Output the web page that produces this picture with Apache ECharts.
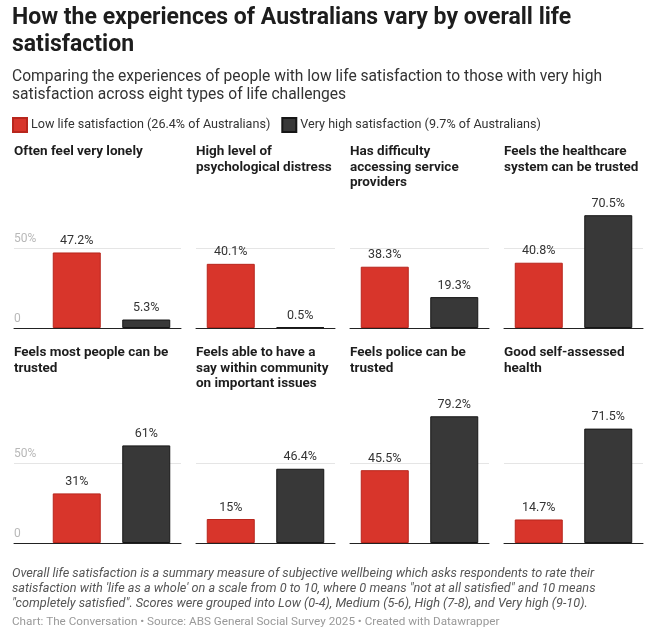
<!DOCTYPE html>
<html>
<head>
<meta charset="utf-8">
<script src="https://cdn.jsdelivr.net/npm/echarts@6/dist/echarts.min.js"></script>
<style>
  html, body { margin: 0; padding: 0; background: #fff; }
  #chart { width: 657px; height: 640px; }
</style>
</head>
<body>
<div id="chart"></div>
<script>
// values
var panelTitles = [
    'Often feel very lonely',
    'High level of\npsychological distress',
    'Has difficulty\naccessing service\nproviders',
    'Feels the healthcare\nsystem can be trusted',
    'Feels most people can be\ntrusted',
    'Feels able to have a\nsay within community\non important issues',
    'Feels police can be\ntrusted',
    'Good self-assessed\nhealth'
];
var lowValues = [47.2, 40.1, 38.3, 40.8, 31, 15, 45.5, 14.7];
var highValues = [5.3, 0.5, 19.3, 70.5, 61, 46.4, 79.2, 71.5];
var seriesNames = ['Low life satisfaction (26.4% of Australians)', 'Very high satisfaction (9.7% of Australians)'];
var tickLabels = ['0', '50%'];

var RED = '#d8352b';
var DARK = '#383838';

var colLeft = [42, 196, 350, 504];
var colWidth = 139;
var rowTop = [168, 383];
var rowHeight = 160;
var titleTop = [144, 345];

var chartDom = document.getElementById('chart');
var myChart = echarts.init(chartDom);

var grids = [];
var xAxes = [];
var yAxes = [];
var seriesList = [];
var titles = [
    {
        text: 'How the experiences of Australians vary by overall life\nsatisfaction',
        left: 12, top: 5, padding: 0,
        textStyle: { fontFamily: 'Roboto', fontSize: 23, fontWeight: 'bold', color: '#1d1d1d', lineHeight: 27 }
    },
    {
        text: 'Comparing the experiences of people with low life satisfaction to those with very high\nsatisfaction across eight types of life challenges',
        left: 12, top: 68, padding: 0,
        textStyle: { fontFamily: 'Roboto', fontSize: 15.6, fontWeight: 'normal', color: '#333', lineHeight: 18 }
    },
    {
        text: 'Overall life satisfaction is a summary measure of subjective wellbeing which asks respondents to rate their\n' +
              'satisfaction with \'life as a whole\' on a scale from 0 to 10, where 0 means "not at all satisfied" and 10 means\n' +
              '"completely satisfied". Scores were grouped into Low (0-4), Medium (5-6), High (7-8), and Very high (9-10).',
        left: 12, top: 566, padding: 0,
        textStyle: { fontFamily: 'Roboto', fontSize: 12.7, fontStyle: 'italic', fontWeight: 'normal', color: '#555', lineHeight: 15 }
    },
    {
        text: 'Chart: The Conversation \u2022 Source: ABS General Social Survey 2025 \u2022 Created with Datawrapper',
        left: 12, top: 615, padding: 0,
        textStyle: { fontFamily: 'Roboto', fontSize: 11.7, fontWeight: 'normal', color: '#999', lineHeight: 14 }
    }
];

function addGrid(left, top, width) {
    grids.push({ left: left, top: top, width: width, height: rowHeight });
    return grids.length - 1;
}

for (var i = 0; i < panelTitles.length; i++) {
    var row = Math.floor(i / 4);
    var col = i % 4;

    titles.push({
        text: panelTitles[i],
        left: col == 0 ? 14 : colLeft[col],
        top: titleTop[row], padding: 0,
        textStyle: { fontFamily: 'Roboto', fontSize: 13.5, fontWeight: 'bold', color: '#1d1d1d', lineHeight: 15.5 }
    });

    // first column gets a narrow strip for the tick labels
    if (col == 0) {
        var g0 = addGrid(14, rowTop[row], colLeft[0] - 14);
        xAxes.push({
            gridIndex: g0, type: 'value', min: 0, max: 1,
            axisLine: { show: true, lineStyle: { color: '#222', width: 1 } },
            axisTick: { show: false }, axisLabel: { show: false }, splitLine: { show: false }
        });
        yAxes.push({
            gridIndex: g0, type: 'value', min: 0, max: 100, interval: 50,
            axisLine: { show: false }, axisTick: { show: false },
            splitLine: { show: true, showMinLine: false, showMaxLine: false, lineStyle: { color: '#e5e5e5' } },
            axisLabel: {
                inside: true, showMaxLabel: false, margin: 0,
                align: 'left', verticalAlign: 'bottom', padding: [0, 0, 3, 0],
                fontFamily: 'Roboto', fontSize: 12, color: '#b8b8b8',
                formatter: function (v) { return v == 0 ? tickLabels[0] : tickLabels[1]; }
            }
        });
    }

    var g = addGrid(colLeft[col], rowTop[row], colWidth);
    xAxes.push({
        gridIndex: g, type: 'category', data: ['low', 'high'],
        axisLine: { show: true, lineStyle: { color: '#222', width: 1 } },
        axisTick: { show: false }, axisLabel: { show: false }
    });
    yAxes.push({
        gridIndex: g, type: 'value', min: 0, max: 100, interval: 50,
        axisLine: { show: false }, axisTick: { show: false }, axisLabel: { show: false },
        splitLine: { show: true, showMinLine: false, showMaxLine: false, lineStyle: { color: '#e5e5e5' } }
    });

    var barLabel = {
        show: true, position: 'top', distance: 5,
        fontFamily: 'Roboto', fontSize: 12.5, color: '#333',
        formatter: function (p) { return p.value + '%'; }
    };
    seriesList.push({
        type: 'bar', name: seriesNames[0], xAxisIndex: xAxes.length - 1, yAxisIndex: yAxes.length - 1,
        data: [lowValues[i], '-'], barWidth: 48, barGap: '-100%',
        itemStyle: { color: RED, borderColor: '#b8261d', borderWidth: 1 },
        label: barLabel, silent: true
    });
    seriesList.push({
        type: 'bar', name: seriesNames[1], xAxisIndex: xAxes.length - 1, yAxisIndex: yAxes.length - 1,
        data: ['-', highValues[i]], barWidth: 48, barGap: '-100%',
        itemStyle: { color: DARK, borderColor: '#161616', borderWidth: 1 },
        label: barLabel, silent: true
    });
}

var option = {
    backgroundColor: '#fff',
    animation: false,
    title: titles,
    legend: {
        data: seriesNames,
        left: 12, top: 117, padding: 0,
        icon: 'rect', itemWidth: 14, itemHeight: 14, itemGap: 11,
        selectedMode: false,
        textStyle: { fontFamily: 'Roboto', fontSize: 12.6, color: '#333', padding: [0, 0, 0, -1] }
    },
    grid: grids,
    xAxis: xAxes,
    yAxis: yAxes,
    series: seriesList
};

myChart.setOption(option);
</script>
</body>
</html>
